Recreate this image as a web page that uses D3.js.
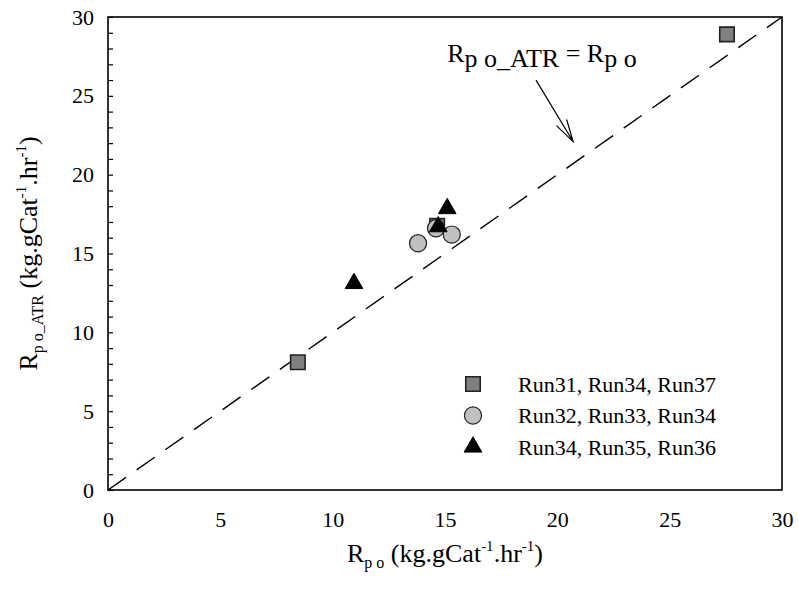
<!DOCTYPE html>
<html>
<head>
<meta charset="utf-8">
<script src="https://cdn.jsdelivr.net/npm/d3@7"></script>
</head>
<body style="margin:0">
<script>
// chart size
var width = 798;
var height = 590;
var margin = {top: 17, right: 16, bottom: 100, left: 108};
var fontName = "Liberation Serif";

// data
var seriesNames = ["Run31, Run34, Run37", "Run32, Run33, Run34", "Run34, Run35, Run36"];
var squareX = [8.45, 14.65, 27.55];
var squareY = [8.1, 16.75, 28.9];
var circleX = [13.8, 14.6, 15.3];
var circleY = [15.65, 16.6, 16.2];
var triangleX = [10.95, 14.7, 15.1];
var triangleY = [13.1, 16.7, 17.85];
var tickValues = [0, 5, 10, 15, 20, 25, 30];
var diagLine = [[0, 0], [30, 30]];
var arrowFrom = [19.05, 26.0];
var arrowTo = [20.7, 22.1];
var annotationAt = [15.1, 27.15];

var svg = d3.select("body").append("svg")
    .attr("width", width)
    .attr("height", height)
    .attr("font-family", fontName);

var x = d3.scaleLinear().domain([0, 30]).range([margin.left, width - margin.right]);
var y = d3.scaleLinear().domain([0, 30]).range([height - margin.bottom, margin.top]);

// x axis: labels only
svg.append("g")
    .attr("transform", "translate(0," + y(0) + ")")
    .call(d3.axisBottom(x).tickValues(tickValues).tickSize(0).tickPadding(21))
    .call(function(g) {
      g.attr("font-family", fontName).attr("font-size", 22);
      g.select(".domain").remove();
      g.selectAll("text").attr("fill", "#000");
    });

// y axis: small inward ticks every unit, labels every 5
svg.append("g")
    .attr("transform", "translate(" + x(0) + ",0)")
    .call(d3.axisLeft(y).tickValues(d3.range(0, 31)).tickSizeInner(-5).tickSizeOuter(0).tickPadding(14)
      .tickFormat(function(d) { return d % 5 === 0 ? d : ""; }))
    .call(function(g) {
      g.attr("font-family", fontName).attr("font-size", 22);
      g.select(".domain").remove();
      g.selectAll("line").attr("stroke", "#000").attr("stroke-width", 1.2);
      g.selectAll("text").attr("fill", "#000");
    });

// frame
svg.append("rect")
    .attr("x", x(0))
    .attr("y", y(30))
    .attr("width", x(30) - x(0))
    .attr("height", y(0) - y(30))
    .attr("fill", "none")
    .attr("stroke", "#000")
    .attr("stroke-width", 1.6);

// 1:1 line
svg.append("path")
    .datum(diagLine)
    .attr("d", d3.line().x(function(d) { return x(d[0]); }).y(function(d) { return y(d[1]); }))
    .attr("fill", "none")
    .attr("stroke", "#000")
    .attr("stroke-width", 1.4)
    .attr("stroke-dasharray", "22,13");

// markers
var sym = {
  square: d3.symbol().type(d3.symbolSquare).size(210),
  circle: d3.symbol().type(d3.symbolCircle).size(230),
  triangle: d3.symbol().type(d3.symbolTriangle).size(135)
};
var styles = {
  square: {fill: "#808080", stroke: "#222", sw: 1.6},
  circle: {fill: "#c0c0c0", stroke: "#222", sw: 1.2},
  triangle: {fill: "#000", stroke: "#000", sw: 1}
};

function drawPoints(xs, ys, kind) {
  svg.append("g").selectAll("path")
      .data(d3.zip(xs, ys))
      .enter()
      .append("path")
      .attr("d", sym[kind])
      .attr("transform", function(d) { return "translate(" + x(d[0]) + "," + y(d[1]) + ")"; })
      .attr("fill", styles[kind].fill)
      .attr("stroke", styles[kind].stroke)
      .attr("stroke-width", styles[kind].sw);
}
drawPoints(squareX, squareY, "square");
drawPoints(circleX, circleY, "circle");
drawPoints(triangleX, triangleY, "triangle");

// legend
var kinds = ["square", "circle", "triangle"];
var legend = svg.append("g")
    .selectAll("g")
    .data(seriesNames)
    .enter()
    .append("g")
    .attr("transform", function(d, i) { return "translate(473," + (384 + i * 31.5) + ")"; });

legend.append("path")
    .attr("d", function(d, i) { return sym[kinds[i]](); })
    .attr("fill", function(d, i) { return styles[kinds[i]].fill; })
    .attr("stroke", function(d, i) { return styles[kinds[i]].stroke; })
    .attr("stroke-width", function(d, i) { return styles[kinds[i]].sw; });

legend.append("text")
    .attr("x", 45)
    .attr("dy", ".35em")
    .attr("font-size", 22)
    .text(function(d) { return d; });

// text with sub/superscript pieces
function richText(sel, parts) {
  parts.forEach(function(p) {
    sel.append("tspan")
        .attr("dy", p.dy || 0)
        .attr("font-size", p.size)
        .text(p.t);
  });
}

// x title
var xt = svg.append("text")
    .attr("x", 445)
    .attr("y", 562)
    .attr("text-anchor", "middle");
richText(xt, [
  {t: "R", size: 26},
  {t: "p o", size: 16, dy: 6},
  {t: "\u00a0(kg.gCat", size: 26, dy: -6},
  {t: "-1", size: 15, dy: -11},
  {t: ".hr", size: 26, dy: 11},
  {t: "-1", size: 15, dy: -11},
  {t: ")", size: 26, dy: 11}
]);

// y title
var yt = svg.append("text")
    .attr("transform", "translate(37," + ((y(0) + y(30)) / 2) + ") rotate(-90)")
    .attr("text-anchor", "middle");
richText(yt, [
  {t: "R", size: 26},
  {t: "p o_ATR", size: 16, dy: 6},
  {t: "\u00a0(kg.gCat", size: 26, dy: -6},
  {t: "-1", size: 15, dy: -11},
  {t: ".hr", size: 26, dy: 11},
  {t: "-1", size: 15, dy: -11},
  {t: ")", size: 26, dy: 11}
]);

// annotation
var at = svg.append("text")
    .attr("x", x(annotationAt[0]))
    .attr("y", y(annotationAt[1]));
richText(at, [
  {t: "R", size: 26},
  {t: "p o_ATR", size: 26, dy: 5},
  {t: " = R", size: 26, dy: -5},
  {t: "p o", size: 26, dy: 5}
]);

// arrow with open head
var ax0 = x(arrowFrom[0]), ay0 = y(arrowFrom[1]);
var ax1 = x(arrowTo[0]), ay1 = y(arrowTo[1]);
var ang = Math.atan2(ay1 - ay0, ax1 - ax0);
var headLen = 23, headAng = 0.26;
svg.append("path")
    .attr("d", "M" + ax0 + "," + ay0 + "L" + ax1 + "," + ay1 +
      "M" + (ax1 - headLen * Math.cos(ang - headAng)) + "," + (ay1 - headLen * Math.sin(ang - headAng)) +
      "L" + ax1 + "," + ay1 +
      "L" + (ax1 - headLen * Math.cos(ang + headAng)) + "," + (ay1 - headLen * Math.sin(ang + headAng)))
    .attr("fill", "none")
    .attr("stroke", "#000")
    .attr("stroke-width", 1.2);

// same serif face on every text piece
svg.selectAll("text, tspan").attr("font-family", fontName);
</script>
</body>
</html>
